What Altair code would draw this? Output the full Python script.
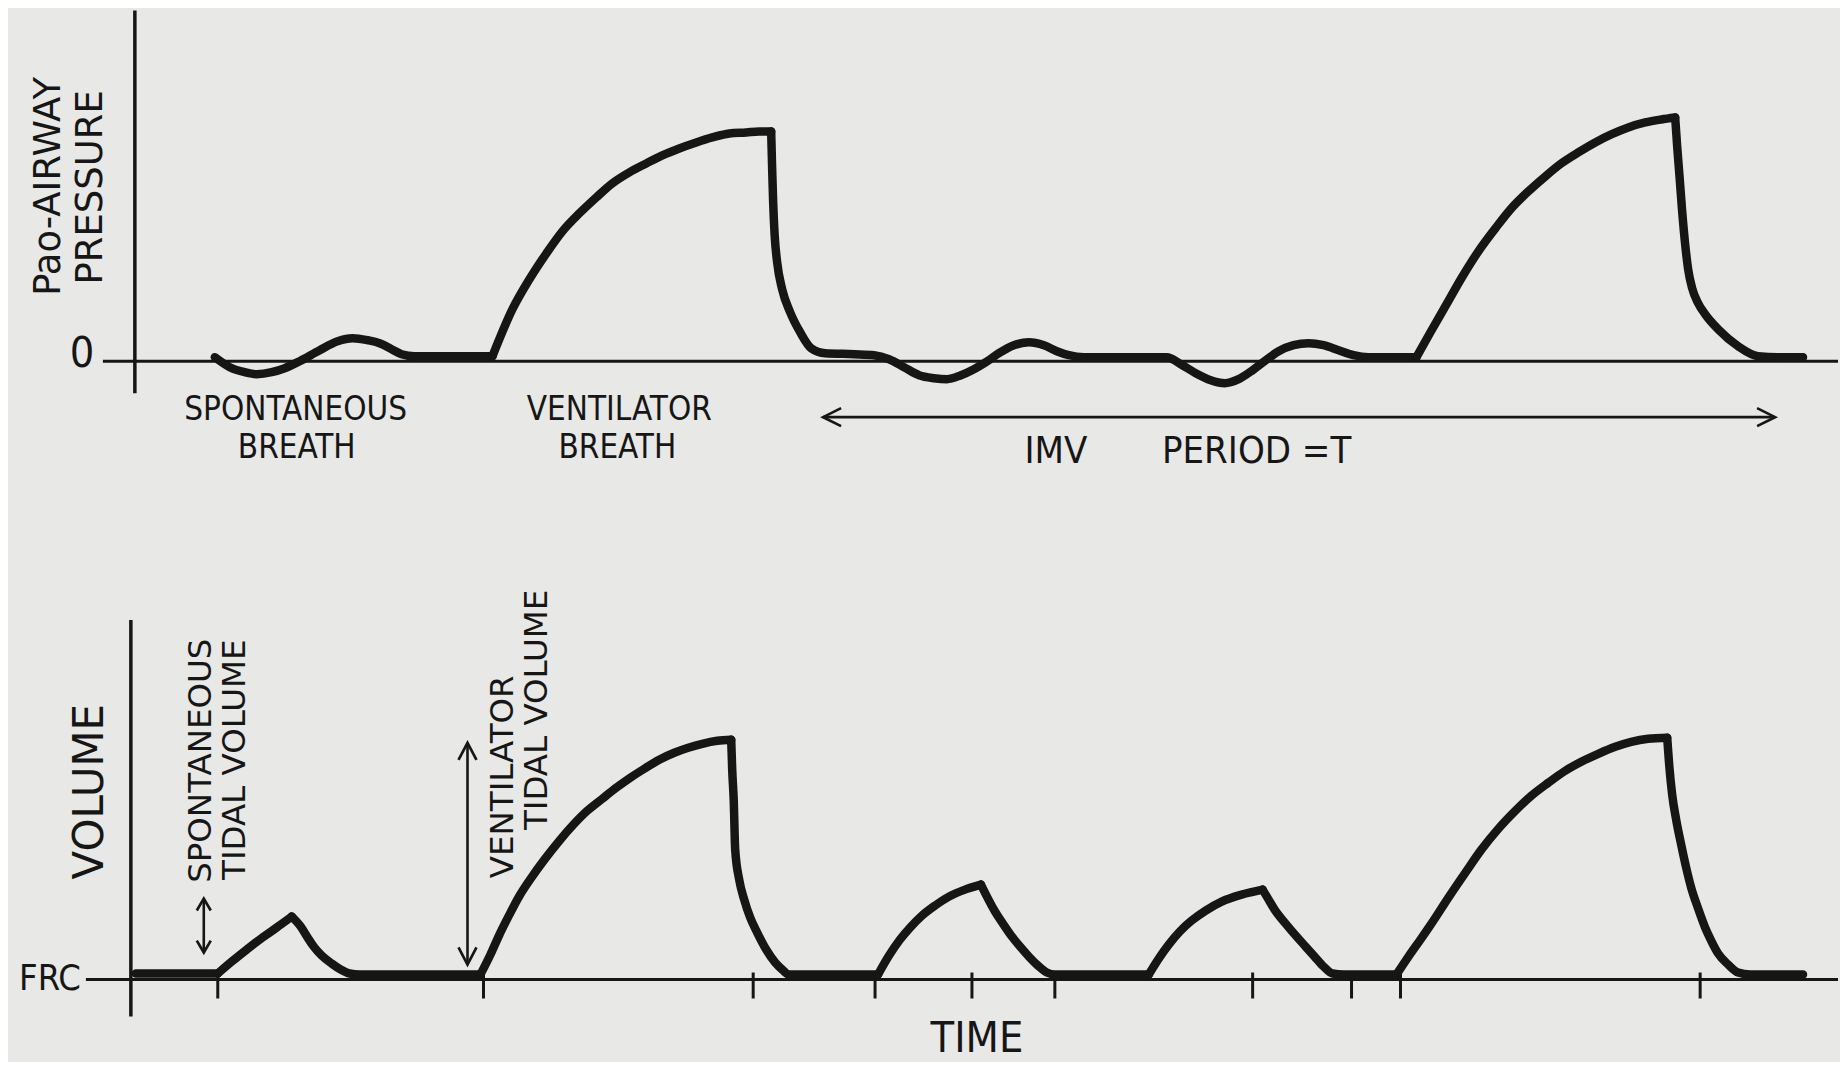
import altair as alt
import pandas as pd

INK = "#161616"
PAPER = "#e8e8e6"
COND = "DejaVu Sans Condensed, Liberation Sans Narrow, DejaVu Sans"
WIDE = "DejaVu Sans, Verdana, sans-serif"

# ---------------- data (arbitrary time units) ----------------
# airway pressure trace (relative to 0)
p_time = [215, 230, 245, 257, 272, 285, 300, 320, 338, 353, 368, 380, 392, 402, 415, 450, 493,
          513, 530, 547, 563, 580, 597, 613, 630, 647, 663, 680, 697, 713, 730, 747, 760, 772,
          773, 774, 775.5, 778, 783, 791, 801, 812, 826, 855, 875, 890, 905, 920, 935, 948, 962, 975,
          987, 1000, 1015, 1030, 1045, 1058, 1070, 1085, 1120, 1168, 1182, 1197, 1212, 1226,
          1240, 1254, 1266, 1280, 1295, 1310, 1325, 1340, 1355, 1370, 1418,
          1432, 1447, 1463, 1480, 1497, 1513, 1530, 1547, 1563, 1580, 1597, 1613, 1630, 1647,
          1663, 1677, 1679, 1681.5, 1684, 1687, 1690, 1694, 1700, 1707, 1720, 1740, 1760, 1780, 1805]
p_val = [0.4, -0.6, -1.1, -1.3, -1.1, -0.7, 0.0, 1.1, 2.0, 2.3, 2.1, 1.8, 1.2, 0.7, 0.5, 0.5, 0.5,
         5.2, 8.2, 10.8, 13.0, 14.8, 16.4, 17.8, 18.9, 19.8, 20.6, 21.3, 21.9, 22.4, 22.8, 22.9, 23.0, 23.0,
         19.2, 15.9, 12.6, 9.9, 7.2, 4.9, 2.9, 1.3, 0.8, 0.7, 0.6, 0.2, -0.6, -1.4, -1.7, -1.8, -1.4, -0.8,
         -0.1, 0.8, 1.6, 1.9, 1.6, 1.0, 0.6, 0.4, 0.4, 0.4, -0.3, -1.2, -1.9, -2.2,
         -1.8, -0.9, 0.0, 1.0, 1.6, 1.8, 1.6, 1.1, 0.6, 0.4, 0.4,
         2.9, 5.5, 8.3, 11.0, 13.3, 15.3, 17.0, 18.5, 19.8, 20.9, 21.9, 22.7, 23.4, 23.9,
         24.2, 24.4, 21.5, 18.3, 15.0, 11.7, 9.2, 7.3, 5.8, 4.7, 3.2, 1.5, 0.5, 0.4, 0.4]
p_corners = [493, 772, 1418, 1677]

# lung volume trace (relative to FRC)
v_time = [136, 216, 218, 232, 247, 260, 270, 281, 292, 301, 308, 314, 322, 332, 341, 350, 360, 420, 481,
          491, 500, 510, 519, 532, 545, 560, 574, 588, 603, 617, 631, 645, 660, 675, 689, 703, 718, 732,
          733, 734.5, 736, 740, 745, 751, 758, 767, 776, 783, 790, 830, 879,
          890, 901, 912, 923, 936, 950, 966, 982,
          987, 995, 1004, 1013, 1022, 1030, 1039, 1048, 1056, 1100, 1150,
          1160, 1170, 1181, 1193, 1207, 1223, 1243, 1264,
          1270, 1276, 1287, 1298, 1307, 1316, 1325, 1334, 1345, 1398,
          1410, 1422, 1433, 1450, 1467, 1483, 1500, 1517, 1533, 1550, 1567, 1583, 1600, 1617, 1633, 1650, 1669,
          1671, 1674, 1678, 1683, 1688, 1693, 1700, 1707, 1713, 1720, 1730, 1740, 1752, 1805]
v_val = [0.6, 0.6, 0.6, 1.8, 3.0, 4.0, 4.7, 5.5, 6.3, 5.3, 4.2, 3.3, 2.4, 1.6, 1.0, 0.6, 0.5, 0.5, 0.5,
         2.5, 4.5, 6.5, 8.2, 10.2, 12.0, 13.9, 15.5, 16.9, 18.1, 19.2, 20.2, 21.1, 22.0, 22.7, 23.2, 23.6, 23.9, 24.0,
         21.0, 18.0, 13.0, 10.0, 8.0, 6.2, 4.7, 3.0, 1.7, 1.0, 0.5, 0.5, 0.5,
         2.4, 4.0, 5.3, 6.4, 7.4, 8.3, 9.0, 9.5,
         8.5, 7.0, 5.6, 4.3, 3.2, 2.3, 1.4, 0.7, 0.5, 0.5, 0.5,
         2.1, 3.5, 4.8, 5.9, 6.9, 7.8, 8.5, 9.0,
         8.0, 7.0, 5.6, 4.3, 3.3, 2.3, 1.3, 0.6, 0.5, 0.5,
         2.3, 4.0, 5.6, 8.2, 10.7, 13.0, 15.1, 16.9, 18.4, 19.7, 20.9, 21.8, 22.6, 23.3, 23.8, 24.1, 24.2,
         21.5, 18.5, 16.0, 13.5, 11.2, 9.2, 7.1, 5.2, 3.9, 2.6, 1.5, 0.7, 0.5, 0.5]
v_corners = [218, 292, 481, 732, 879, 982, 1150, 1264, 1398, 1669]

tick_times = [218, 484, 754, 876, 973, 1056, 1254, 1353, 1402, 1702]

# labels
top_rot_text = ["Pao-AIRWAY", "PRESSURE"]
top_rot_t = [49, 91]
top_rot_p = [17.5, 17.4]

top_text = ["SPONTANEOUS", "BREATH", "VENTILATOR", "BREATH"]
top_text_t = [296, 297, 620, 618]
top_text_p = [-4.9, -8.7, -4.9, -8.7]

imv_text = ["IMV", "PERIOD =T"]
imv_text_t = [1057, 1258]
imv_text_p = [-9.1, -9.1]

bot_rot_text = ["SPONTANEOUS", "TIDAL VOLUME", "VENTILATOR", "TIDAL VOLUME"]
bot_rot_t = [201, 235, 504, 538]
bot_rot_v = [21.9, 22.0, 20.3, 27.0]


def segments(times, vals, corners):
    """split a trace into pieces at its sharp corners (corner point shared)."""
    rows, seg = [], 0
    for i, (t, v) in enumerate(zip(times, vals)):
        rows.append((t, v, seg, float(i)))
        if t in corners:
            seg += 1
            rows.append((t, v, seg, i + 0.5))
    return pd.DataFrame(rows, columns=["t", "val", "seg", "i"])


# ---------------- scales ----------------
xs = alt.Scale(domain=[8, 1840], nice=False, zero=False)
ys_p = alt.Scale(domain=[-18.7, 35.3], nice=False, zero=False)
ys_v = alt.Scale(domain=[-7.8, 43.2], nice=False, zero=False)


def X(f="t"):
    return alt.X(f"{f}:Q", scale=xs, axis=None)


def Y(f, sc):
    return alt.Y(f"{f}:Q", scale=sc, axis=None)


def df(**kw):
    return pd.DataFrame(kw)


def trace(data, sc):
    return alt.Chart(data).mark_line(color=INK, strokeWidth=8.5, interpolate="monotone",
                                     strokeJoin="round", strokeCap="round").encode(
        x=X(), y=Y("val", sc), detail="seg:N", order="i:Q")


def chevron(t, y, yname, sc, path, size):
    return alt.Chart(pd.DataFrame({"t": [t], yname: [y]})).mark_point(
        shape=path, filled=False, color=INK, strokeWidth=2.7, size=size, opacity=1).encode(
        x=X(), y=Y(yname, sc))


# ---------------- top panel ----------------
top_axis = alt.Chart(df(t=[135], p=[35.1], p2=[-3.2])).mark_rule(color=INK, strokeWidth=3.5).encode(
    x=X(), y=Y("p", ys_p), y2="p2")
top_zero = alt.Chart(df(t=[103], t2=[1840], p=[0])).mark_rule(color=INK, strokeWidth=3).encode(
    x=X(), x2="t2", y=Y("p", ys_p))
p_line = trace(segments(p_time, p_val, p_corners), ys_p)

imv_arrow = alt.Chart(df(t=[824], t2=[1777], p=[-5.6])).mark_rule(color=INK, strokeWidth=2.6).encode(
    x=X(), x2="t2", y=Y("p", ys_p))
imv_left = chevron(824, -5.6, "p", ys_p, "M2,-1L0,0L2,1", 324)
imv_right = chevron(1777, -5.6, "p", ys_p, "M-2,-1L0,0L-2,1", 324)

zero_lbl = alt.Chart(df(t=[82], p=[0.7], s=["0"])).mark_text(
    font=COND, fontSize=43, color=INK, align="center", baseline="middle").encode(
    x=X(), y=Y("p", ys_p), text="s:N")
top_rot = alt.Chart(df(t=top_rot_t, p=top_rot_p, s=top_rot_text)).mark_text(
    font=WIDE, fontSize=37, angle=270, color=INK, align="center", baseline="middle").encode(
    x=X(), y=Y("p", ys_p), text="s:N")
top_lbls = alt.Chart(df(t=top_text_t, p=top_text_p, s=top_text)).mark_text(
    font=COND, fontSize=33, color=INK, align="center", baseline="middle").encode(
    x=X(), y=Y("p", ys_p), text="s:N")
imv_lbls = alt.Chart(df(t=imv_text_t, p=imv_text_p, s=imv_text)).mark_text(
    font=COND, fontSize=38, color=INK, align="center", baseline="middle").encode(
    x=X(), y=Y("p", ys_p), text="s:N")

top = alt.layer(top_axis, top_zero, imv_arrow, imv_left, imv_right, p_line,
                zero_lbl, top_rot, top_lbls, imv_lbls).properties(width=1832, height=540)

# ---------------- bottom panel ----------------
bot_axis = alt.Chart(df(t=[131], v=[36.0], v2=[-3.7])).mark_rule(color=INK, strokeWidth=3.5).encode(
    x=X(), y=Y("v", ys_v), y2="v2")
frc_line = alt.Chart(df(t=[86], t2=[1840], v=[0])).mark_rule(color=INK, strokeWidth=3).encode(
    x=X(), x2="t2", y=Y("v", ys_v))
ticks = alt.Chart(df(t=tick_times, v=[0.7] * len(tick_times), v2=[-1.9] * len(tick_times))).mark_rule(
    color=INK, strokeWidth=3).encode(x=X(), y=Y("v", ys_v), y2="v2")
v_line = trace(segments(v_time, v_val, v_corners), ys_v)

# tidal-volume double arrows
arrows = alt.Chart(df(t=[204, 468], v=[8.1, 23.7], v2=[2.7, 1.5])).mark_rule(
    color=INK, strokeWidth=2.6).encode(x=X(), y=Y("v", ys_v), y2="v2")
sp_up = chevron(204, 8.1, "v", ys_v, "M-1,1.7L0,0L1,1.7", 196)
sp_dn = chevron(204, 2.7, "v", ys_v, "M-1,-1.7L0,0L1,-1.7", 196)
vt_up = chevron(468, 23.7, "v", ys_v, "M-1,1.9L0,0L1,1.9", 324)
vt_dn = chevron(468, 1.5, "v", ys_v, "M-1,-1.9L0,0L1,-1.9", 324)

vol_lbl = alt.Chart(df(t=[90], v=[18.8], s=["VOLUME"])).mark_text(
    font=WIDE, fontSize=42, angle=270, color=INK, align="center", baseline="middle").encode(
    x=X(), y=Y("v", ys_v), text="s:N")
bot_rot = alt.Chart(df(t=bot_rot_t, v=bot_rot_v, s=bot_rot_text)).mark_text(
    font=WIDE, fontSize=32.5, angle=270, color=INK, align="center", baseline="middle").encode(
    x=X(), y=Y("v", ys_v), text="s:N")
frc_lbl = alt.Chart(df(t=[50], v=[0.1], s=["FRC"])).mark_text(
    font=COND, fontSize=36, color=INK, align="center", baseline="middle").encode(
    x=X(), y=Y("v", ys_v), text="s:N")
time_lbl = alt.Chart(df(t=[978], v=[-6.0], s=["TIME"])).mark_text(
    font=COND, fontSize=43, color=INK, align="center", baseline="middle").encode(
    x=X(), y=Y("v", ys_v), text="s:N")

bottom = alt.layer(bot_axis, frc_line, ticks, arrows, sp_up, sp_dn, vt_up, vt_dn, v_line,
                   vol_lbl, bot_rot, frc_lbl, time_lbl).properties(width=1832, height=510)

chart = alt.vconcat(top, bottom, spacing=0, bounds="flush").properties(
    padding=0, background=PAPER).configure_view(stroke=None)

chart.save("out.html", embed_options={"renderer": "svg", "actions": False})
